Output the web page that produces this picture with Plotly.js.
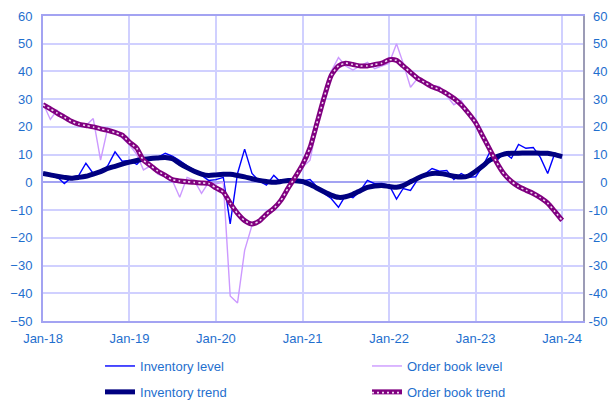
<!DOCTYPE html>
<html>
<head>
<meta charset="utf-8">
<script src="https://cdn.plot.ly/plotly-3.0.1.min.js"></script>
<style>
  html, body { margin: 0; padding: 0; background: #fff; }
  #chart { width: 614px; height: 403px; }
</style>
</head>
<body>
<div id="chart"></div>
<script>
// monthly survey balances, Jan-18 .. Jan-24
const START_YEAR = 2018;

const inventoryLevel = [
  3.2, 2.5, 2, -0.4, 1.8, 2.5, 6.9, 3.2, 3.6, 6,
  11, 7.6, 7.9, 6.5, 9, 8.5, 9, 10.5, 9.5, 7.9,
  6, 4.5, 2.5, 0.7, 1, 1.8, -15, 3.2, 12, 3.2,
  0.5, -1, 2.5, 0, 0.5, 0.7, 0.5, 1, -1.5, -4,
  -5.8, -9, -4.7, -5.5, -3, 0.7, -0.5, -0.4, -1, -6,
  -2.2, -2.9, 1, 3, 5, 4, 4.3, 1, 3.2, 1.8,
  2, 6, 10.8, 7.9, 10.8, 8.7, 13.7, 12.3, 12.6, 9,
  3.2, 10.5, 9.5,
];
const orderBookLevel = [
  28.5, 22.7, 26, 24, 22, 20.5, 20.5, 23, 8, 19.5,
  18, 16, 13.5, 10, 4.5, 6, 3, 2, 0.7, -5.4,
  1.8, 0.7, -4, 0, -0.5, 0, -41, -43.5, -24.5, -15.5,
  -13.5, -11, -9, -6.5, -2, 2, 5.5, 8, 20, 32,
  40, 45, 42, 40.5, 42, 43.3, 41, 42, 43, 50,
  43, 34.3, 37.5, 36, 35, 34.5, 31, 28, 29.5, 25,
  21, 16.5, 12, 7, 3, 0.3, -1.5, -2.8, -4, -5.5,
  -7.5, -10.5, -14,
];
const inventoryTrend = [
  3.2, 2.7, 2.2, 1.8, 1.5, 1.8, 2.2, 3, 3.9, 5,
  5.8, 6.6, 7.3, 7.9, 8.3, 8.6, 8.8, 9, 8.5, 6.8,
  5.3, 4, 3, 2.5, 2.7, 2.9, 2.9, 2.5, 2, 1.3,
  0.7, 0.3, 0, 0.3, 0.7, 0.6, 0.3, -0.8, -2, -3.4,
  -4.6, -5.4, -5.2, -4.3, -3, -1.8, -1.3, -1.1, -1.5, -1.8,
  -1.2, 0.2, 1.5, 2.6, 3.2, 3.2, 2.8, 2.2, 1.9, 2.3,
  4, 6, 8, 9.3, 10.2, 10.5, 10.5, 10.6, 10.6, 10.5,
  10.5, 10, 9.3,
];
const orderBookTrend = [
  28, 26.5, 25, 23.5, 22, 21, 20.5, 20, 19.3, 18.8,
  18, 17, 14.5, 12.3, 8, 6, 4, 2.5, 1, 0.5,
  0.2, 0, -0.2, -0.4, -2, -3.5, -7.5, -11.2, -13.8, -15,
  -14, -11.5, -9.4, -6.5, -2, 2, 6.5, 12.5, 21, 30.5,
  38.5, 42, 43, 42.5, 42, 42, 42.5, 43, 44.2, 44,
  42, 39.7, 37.5, 36, 34.5, 33.5, 32, 30.3, 28, 25,
  21.5, 16.5, 12, 7, 3, 0.3, -1.5, -2.8, -4, -5.5,
  -7.5, -10.5, -13.7,
];

const xTickVals = ["2018-01-01", "2019-01-01", "2020-01-01", "2021-01-01", "2022-01-01", "2023-01-01", "2024-01-01"];
const xTickText = ["Jan-18", "Jan-19", "Jan-20", "Jan-21", "Jan-22", "Jan-23", "Jan-24"];
const yTickVals = [-50, -40, -30, -20, -10, 0, 10, 20, 30, 40, 50, 60];

const months = inventoryLevel.map((_, i) => {
  const y = START_YEAR + Math.floor(i / 12);
  const m = (i % 12) + 1;
  return `${y}-${String(m).padStart(2, "0")}-01`;
});

// right axis labels are right-aligned in the original: pad with a
// hyphen-wide space (U+2004) and a digit-wide space (U+2007)
const rightTickText = yTickVals.map((v) => {
  if (v < 0) return String(v);
  if (v === 0) return "\u2004\u2007" + v;
  return "\u2004" + v;
});

const FONT = "Liberation Sans, Arial, sans-serif";
const TEXT_BLUE = "#1f6fce";
const GRID = "#d0d0ff";
const AXIS = "#a3a3f2";

const traces = [
  {
    x: months, y: inventoryLevel, name: "Inventory level",
    type: "scatter", mode: "lines",
    line: { color: "#0000ff", width: 1.4 },
    legend: "legend", legendgroup: "a",
  },
  {
    x: months, y: orderBookLevel, name: "Order book level",
    type: "scatter", mode: "lines",
    line: { color: "#cc99ff", width: 1.4 },
    legend: "legend2", legendgroup: "b",
  },
  {
    x: months, y: inventoryTrend, name: "Inventory trend",
    type: "scatter", mode: "lines",
    line: { color: "#000080", width: 5, shape: "spline", smoothing: 0.6 },
    legend: "legend", legendgroup: "c",
  },
  {
    x: months, y: orderBookTrend, name: "Order book trend",
    type: "scatter", mode: "lines",
    line: { color: "#800080", width: 5, shape: "spline", smoothing: 0.6 },
    legend: "legend2", legendgroup: "d",
  },
  // light dots running along the order book trend (on y2, same range, so the right axis is drawn)
  {
    x: months, y: orderBookTrend, name: "", yaxis: "y2",
    type: "scatter", mode: "lines",
    line: { color: "#f2dbf2", width: 1.6, dash: "2px,3px", shape: "spline", smoothing: 0.6 },
    legend: "legend3", hoverinfo: "skip",
  },
];

const legendBase = {
  orientation: "v",
  xref: "container", yref: "container",
  xanchor: "left", yanchor: "top",
  bgcolor: "rgba(0,0,0,0)",
  borderwidth: 0,
  font: { family: FONT, size: 13, color: TEXT_BLUE },
  traceorder: "grouped",
  tracegroupgap: 6,
};

const layout = {
  width: 614, height: 403,
  paper_bgcolor: "#ffffff",
  plot_bgcolor: "#ffffff",
  margin: { t: 16, r: 31, b: 82, l: 43, autoexpand: false },
  font: { family: FONT, size: 13, color: TEXT_BLUE },
  showlegend: true,
  xaxis: {
    type: "date",
    range: ["2018-01-01", "2024-03-29"],
    tickvals: xTickVals, ticktext: xTickText,
    showgrid: true, gridcolor: GRID, gridwidth: 2,
    showline: true, linecolor: AXIS, linewidth: 2, mirror: true,
    zeroline: false, ticks: "",
    ticklabelstandoff: 4,
    tickfont: { family: FONT, size: 13, color: TEXT_BLUE },
  },
  yaxis: {
    range: [-50, 60], tickvals: yTickVals,
    showgrid: true, gridcolor: GRID, gridwidth: 2,
    showline: true, linecolor: AXIS, linewidth: 2,
    zeroline: true, zerolinecolor: AXIS, zerolinewidth: 2,
    ticks: "", ticklabelstandoff: 6,
    tickfont: { family: FONT, size: 13, color: TEXT_BLUE },
  },
  yaxis2: {
    overlaying: "y", side: "right",
    range: [-50, 60], tickvals: yTickVals, ticktext: rightTickText,
    showgrid: false, zeroline: false,
    showline: true, linecolor: "#9c9cb6", linewidth: 2,
    ticks: "", ticklabelstandoff: 1,
    tickfont: { family: FONT, size: 13, color: TEXT_BLUE },
  },
  legend: { ...legendBase, x: 0.1629, y: 0.1290 },
  legend2: { ...legendBase, x: 0.5977, y: 0.1290 },
  legend3: { ...legendBase, x: 0.5977, y: 0.0628 },
};

Plotly.newPlot("chart", traces, layout, { displayModeBar: false, staticPlot: true });
</script>
</body>
</html>
